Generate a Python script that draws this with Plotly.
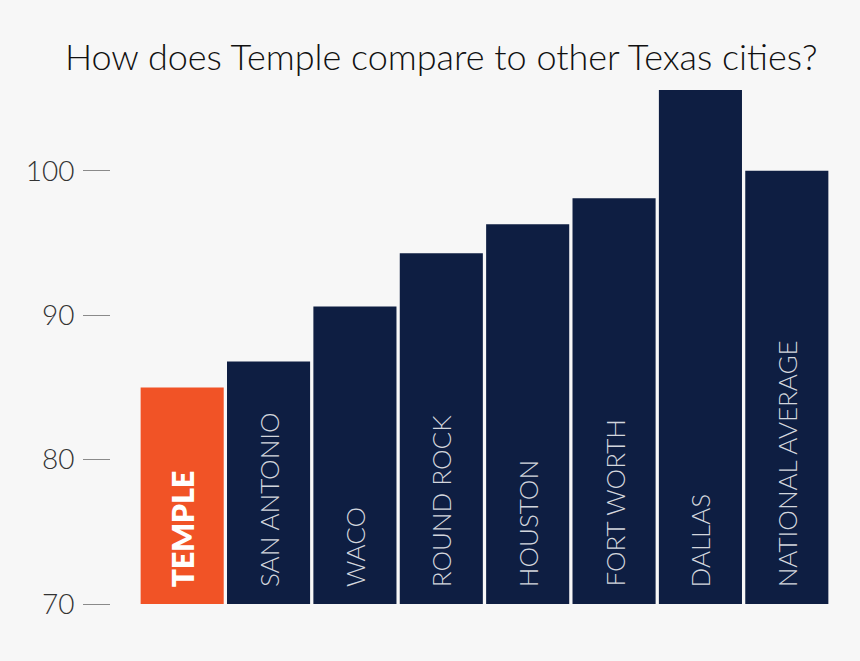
import plotly.graph_objects as go

categories = ["TEMPLE", "SAN ANTONIO", "WACO", "ROUND ROCK", "HOUSTON",
              "FORT WORTH", "DALLAS", "NATIONAL AVERAGE"]
values = [85.0, 86.8, 90.6, 94.3, 96.3, 98.1, 105.6, 100.0]
highlight = "TEMPLE"
tick_vals = [70, 80, 90, 100]
title_text = "How does Temple compare to other Texas cities?"

ORANGE = "#F15326"
NAVY = "#0E1E42"
BG = "#F7F7F7"

colors = [ORANGE if c == highlight else NAVY for c in categories]
xs = list(range(len(categories)))

fig = go.Figure()
fig.add_trace(go.Bar(
    x=xs, y=values, marker=dict(color=colors, line=dict(width=0)),
    base=0, hoverinfo="skip", width=0.962,
))

for i, c in enumerate(categories):
    if c == highlight:
        font = dict(family="Lato", size=30, color="#FFFFFF", weight=800)
    else:
        font = dict(family="Lato", size=26, color="#D3D6DD", weight=300)
    fig.add_annotation(
        x=i, y=70, xref="x", yref="y", text=c, showarrow=False,
        textangle=-90, xanchor="center", yanchor="bottom", yshift=15,
        font=font,
    )

fig.update_layout(
    width=860, height=661,
    paper_bgcolor=BG, plot_bgcolor=BG,
    margin=dict(l=111, r=30, t=90, b=57),
    showlegend=False,
    title=dict(text=title_text, x=0.513, xanchor="center", y=0.913, yanchor="middle",
               font=dict(family="Lato", size=36, color="#111111", weight=300)),
    xaxis=dict(range=[-0.824, 7.5], showticklabels=False, showgrid=False,
               zeroline=False, showline=False, ticks=""),
    yaxis=dict(range=[70, 105.6], tickvals=tick_vals, showgrid=False, zeroline=False,
               showline=False, ticks="outside", ticklen=27, tickwidth=1, tickcolor="#8a8a8a",
               ticklabelstandoff=3,
               tickfont=dict(family="Lato", size=28, color="#333333", weight=300)),
)

fig.write_html(
    "out.html",
    config={"displayModeBar": False},
    post_script="document.body.style.margin='0';document.body.style.background='#F7F7F7';",
)
